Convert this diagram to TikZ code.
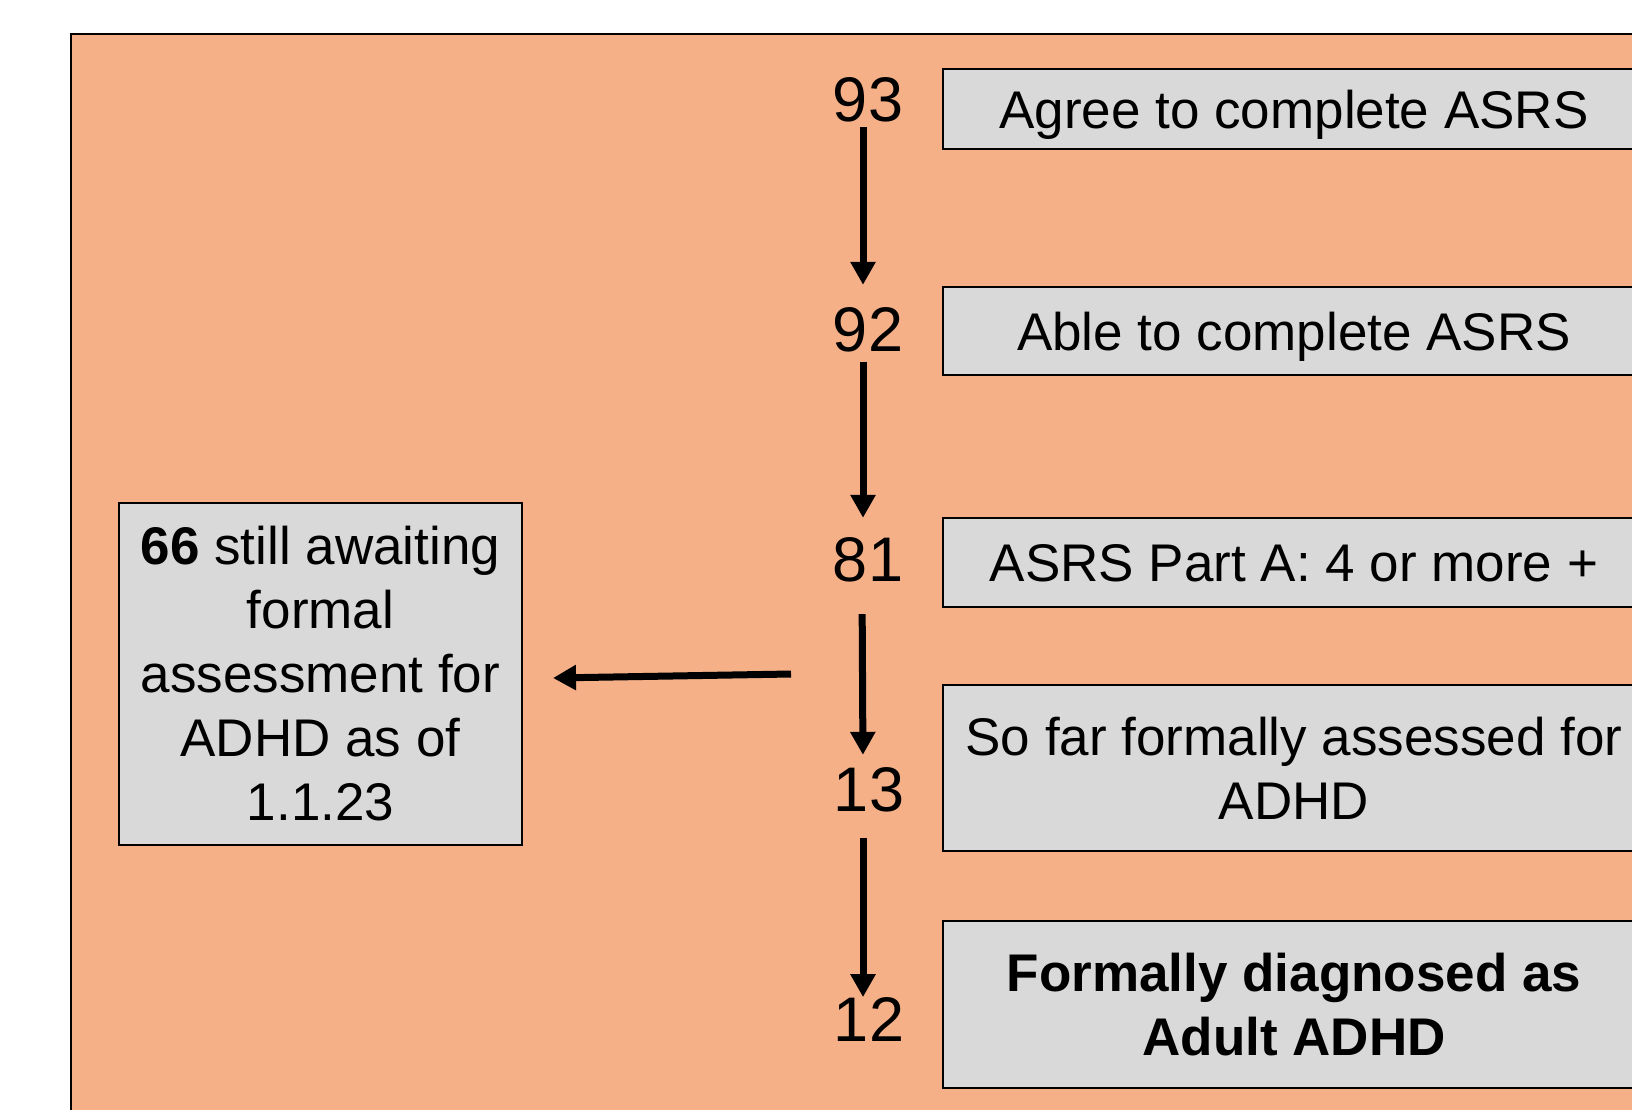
\documentclass[tikz,border=0pt]{standalone}
\usepackage{fontspec}
\setmainfont{Liberation Sans}
\usetikzlibrary{arrows.meta}
\definecolor{bgc}{RGB}{245,176,136}
\definecolor{boxc}{RGB}{217,217,217}
\tikzset{
  stagebox/.style={draw=black, line width=1pt, fill=boxc, align=center, inner sep=0pt,
    font=\fontsize{26.5pt}{32pt}\selectfont, minimum width=351pt},
  oneline/.style={text height=19pt, text depth=0pt},
  countnum/.style={inner sep=0pt, font=\fontsize{31.5pt}{36pt}\selectfont},
  flowarrow/.style={line width=3.5pt, -{Triangle[length=11.5pt,width=12pt]}}
}
\begin{document}
\begin{tikzpicture}[x=0.5pt,y=-0.5pt]
\useasboundingbox (0,0) rectangle (1632,1109);
\clip (0,0) rectangle (1632,1109);
\fill[white] (0,0) rectangle (1632,1109);
\draw[line width=1pt, fill=bgc] (71,34) rectangle (1740,1200);

% stage boxes
\node[stagebox, oneline, minimum height=40pt]   (b1) at (1294,109)   {Agree to complete ASRS};
\node[stagebox, oneline, minimum height=44pt]   (b2) at (1294,331)   {Able to complete ASRS};
\node[stagebox, oneline, minimum height=44.5pt] (b3) at (1294,562.5) {ASRS Part A: 4 or more +};
\node[stagebox, minimum height=83pt]   (b4) at (1294,768)   {So far formally assessed for\\ADHD};
\node[stagebox, minimum height=83.5pt] (b5) at (1294,1004.5) {\textbf{Formally diagnosed as}\\\textbf{Adult ADHD}};

% left box
\node[stagebox, minimum width=201.5pt, minimum height=171pt] (left) at (320.5,674)
  {\textbf{66} still awaiting\\formal\\assessment for\\ADHD as of\\1.1.23};

% counts
\node[countnum] (n93) at (868,100)    {93};
\node[countnum] (n92) at (868,330)    {92};
\node[countnum] (n81) at (868,559.5)  {81};
\node[countnum] (n13) at (869,790)    {13};
\node[countnum] (n12) at (869,1019.5) {12};

% arrows
\draw[flowarrow, shorten <=2.25pt, shorten >=11.25pt] ([xshift=-2.5pt]n93.south) -- ([xshift=-2.5pt]n92.north);
\draw[flowarrow, shorten <=4.75pt, shorten >=9.5pt]   ([xshift=-2.5pt]n92.south) -- ([xshift=-2.5pt]n81.north);
\draw[flowarrow, shorten <=16pt,   shorten >=6.25pt]  ([xshift=-3pt]n81.south) -- ([xshift=-3pt]n13.north);
\draw[flowarrow, shorten <=12.75pt, shorten >=0pt]    ([xshift=-3pt]n13.south) -- ([xshift=-3pt]n12.north);

\coordinate (tail) at (791,674);
\draw[flowarrow] (tail) -- ([xshift=15pt,yshift=-2pt]left.east);
\end{tikzpicture}
\end{document}
